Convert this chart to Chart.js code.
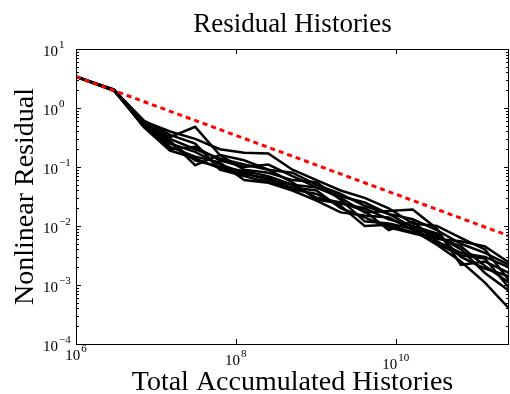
<!DOCTYPE html>
<html><head><meta charset="utf-8">
<script src="https://cdn.jsdelivr.net/npm/chart.js@4"></script>
<style>html,body{margin:0;padding:0;background:#fff}</style>
</head><body>
<canvas id="c" width="510" height="394"></canvas>
<script>
// Total accumulated histories (x)
const histories = [1e6, 3e6, 7e6, 15e6, 31e6, 63e6, 127e6, 255e6, 511e6, 1023e6, 2047e6, 4095e6, 8191e6, 16383e6, 32767e6, 65535e6, 131071e6, 262143e6];

// Nonlinear residual per run (y)
const run1  = [3.4, 2.0, 0.55, 0.32, 0.48, 0.16, 0.13, 0.09, 0.08, 0.05, 0.035, 0.022, 0.016, 0.013, 0.0085, 0.005, 0.0035, 0.0022];
const run2  = [3.4, 2.0, 0.60, 0.40, 0.30, 0.20, 0.175, 0.17, 0.09, 0.06, 0.04, 0.03, 0.02, 0.011, 0.010, 0.0063, 0.004, 0.0012];
const run3  = [3.4, 1.95, 0.50, 0.20, 0.22, 0.13, 0.10, 0.11, 0.07, 0.045, 0.03, 0.017, 0.018, 0.019, 0.009, 0.0022, 0.0025, 0.0016];
const run4  = [3.4, 2.0, 0.58, 0.28, 0.107, 0.16, 0.09, 0.08, 0.06, 0.055, 0.028, 0.012, 0.011, 0.009, 0.007, 0.004, 0.0016, 0.0008];
const run5  = [3.4, 2.05, 0.52, 0.25, 0.18, 0.11, 0.08, 0.06, 0.05, 0.03, 0.025, 0.018, 0.0085, 0.012, 0.0055, 0.0035, 0.003, 0.002];
const run6  = [3.4, 2.0, 0.62, 0.35, 0.25, 0.09, 0.07, 0.055, 0.045, 0.04, 0.02, 0.014, 0.0095, 0.0075, 0.006, 0.0055, 0.0045, 0.0024];
const run7  = [3.4, 1.95, 0.54, 0.22, 0.15, 0.12, 0.06, 0.054, 0.04, 0.027, 0.017, 0.015, 0.014, 0.0085, 0.0048, 0.0025, 0.0011, 0.0004];
const run8  = [3.4, 2.0, 0.48, 0.19, 0.14, 0.095, 0.075, 0.065, 0.042, 0.035, 0.022, 0.010, 0.0105, 0.0078, 0.0065, 0.0045, 0.0021, 0.0011];
const run9  = [3.4, 2.05, 0.57, 0.30, 0.20, 0.14, 0.11, 0.09, 0.055, 0.028, 0.024, 0.020, 0.013, 0.010, 0.0075, 0.003, 0.0019, 0.0014];
const run10 = [3.4, 2.0, 0.50, 0.26, 0.13, 0.10, 0.085, 0.07, 0.05, 0.045, 0.032, 0.025, 0.016, 0.0095, 0.005, 0.0032, 0.0028, 0.0009];
const runs = [run1, run2, run3, run4, run5, run6, run7, run8, run9, run10];

// Reference 1/sqrt(N) line: values at first and last history count
const refX = [1e6, 262143e6];
const refY = [3.4, 0.0068];

// Tick labels (powers of ten)
const xTickExponents = [6, 8, 10];
const yTickExponents = [1, 0, -1, -2, -3, -4];

const title = 'Residual Histories';
const xTitle = 'Total Accumulated Histories';
const yTitle = 'Nonlinear Residual';

const SERIF = '"Liberation Serif", "Times New Roman", serif';

const datasets = [{
  data: refX.map((x, i) => ({x, y: refY[i]})),
  borderColor: '#ff0000', borderWidth: 3, borderDash: [5, 4], order: 0
}].concat(runs.map(r => ({
  data: histories.map((x, i) => ({x, y: r[i]})),
  borderColor: '#000000', borderWidth: 2.5, order: 1
})));

const decor = {
  id: 'decor',
  afterDraw(chart) {
    const ctx = chart.ctx, a = chart.chartArea;
    const xs = chart.scales.x, ys = chart.scales.y;
    ctx.save();
    ctx.strokeStyle = '#000'; ctx.lineWidth = 1;
    ctx.strokeRect(Math.round(a.left) + 0.5, Math.round(a.top) + 0.5, Math.round(a.right - a.left) - 1, Math.round(a.bottom - a.top));
    ctx.beginPath();
    // y ticks
    for (let n = -4; n <= 1; n++) {
      const py = Math.round(ys.getPixelForValue(Math.pow(10, n))) + 0.5;
      ctx.moveTo(a.left, py); ctx.lineTo(a.left + 5, py);
      ctx.moveTo(a.right, py); ctx.lineTo(a.right - 5, py);
      if (n < 1) {
        for (let k = 2; k <= 9; k++) {
          const pm = Math.round(ys.getPixelForValue(k * Math.pow(10, n))) + 0.5;
          ctx.moveTo(a.left, pm); ctx.lineTo(a.left + 3, pm);
          ctx.moveTo(a.right, pm); ctx.lineTo(a.right - 3, pm);
        }
      }
    }
    // x ticks
    xTickExponents.forEach(e => {
      const px = Math.round(xs.getPixelForValue(Math.pow(10, e))) + 0.5;
      ctx.moveTo(px, a.bottom); ctx.lineTo(px, a.bottom - 5);
      ctx.moveTo(px, a.top); ctx.lineTo(px, a.top + 5);
    });
    ctx.stroke();

    ctx.fillStyle = '#000';
    ctx.textBaseline = 'alphabetic';
    // y tick labels
    yTickExponents.forEach(e => {
      const py = ys.getPixelForValue(Math.pow(10, e));
      ctx.font = '15px ' + SERIF; ctx.textAlign = 'left';
      ctx.fillText('10', 43, py + 7);
      const w = ctx.measureText('10').width;
      ctx.font = '11px ' + SERIF;
      ctx.fillText(e < 0 ? '\u2212' + (-e) : String(e), 43 + w + 1, py - 1);
    });
    // x tick labels
    xTickExponents.forEach((e, i) => {
      const px = xs.getPixelForValue(Math.pow(10, e));
      ctx.font = '15px ' + SERIF;
      const w1 = ctx.measureText('10').width;
      ctx.font = '11px ' + SERIF;
      const w2 = ctx.measureText(String(e)).width;
      const x0 = px - (w1 + 1 + w2) / 2;
      const base = 360 + i * 4.5;
      ctx.textAlign = 'left';
      ctx.font = '15px ' + SERIF;
      ctx.fillText('10', x0, base);
      ctx.font = '11px ' + SERIF;
      ctx.fillText(String(e), x0 + w1 + 1, base - 8);
    });
    // titles
    const cx = (a.left + a.right) / 2, cy = (a.top + a.bottom) / 2;
    ctx.textAlign = 'center';
    ctx.font = '27px ' + SERIF;
    ctx.fillText(title, cx, 32);
    ctx.font = '28px ' + SERIF;
    ctx.fillText(xTitle, cx, 390);
    ctx.translate(33, cy);
    ctx.rotate(-Math.PI / 2);
    ctx.fillText(yTitle, 0, 0);
    ctx.restore();
  }
};

new Chart(document.getElementById('c'), {
  type: 'line',
  data: { datasets },
  options: {
    responsive: false, animation: false, devicePixelRatio: 1,
    layout: { padding: { left: 76, right: 1, top: 49, bottom: 50 } },
    elements: { point: { radius: 0 }, line: { tension: 0, fill: false } },
    plugins: { legend: { display: false }, tooltip: { enabled: false }, title: { display: false } },
    scales: {
      x: { type: 'logarithmic', min: 1e6, max: 262143e6, display: false },
      y: { type: 'logarithmic', min: 1e-4, max: 10, display: false }
    }
  },
  plugins: [decor]
});
</script>
</body></html>
